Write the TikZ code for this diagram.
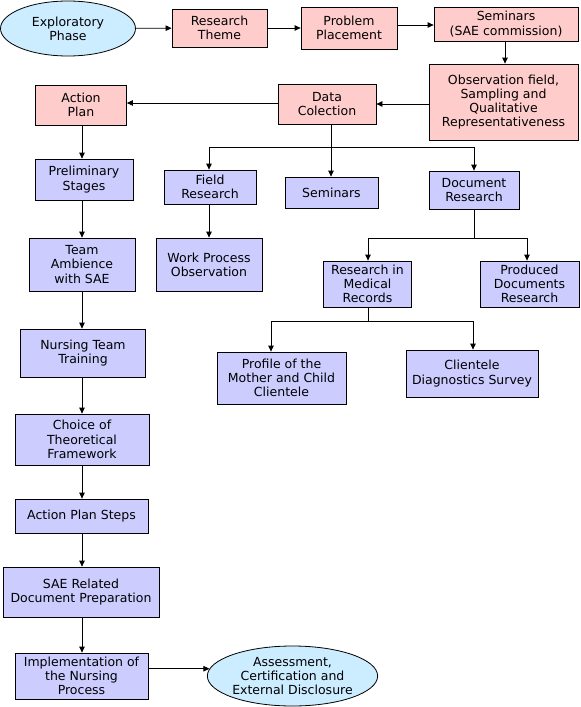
\documentclass[tikz,border=0pt]{standalone}
\usepackage{fontspec}
\setmainfont{DejaVu Sans}
\usetikzlibrary{shapes.geometric,arrows.meta}
\definecolor{pinkfill}{RGB}{255,204,204}
\definecolor{lilacfill}{RGB}{204,204,255}
\definecolor{ovalfill}{RGB}{204,236,255}
\tikzset{
  box/.style={draw=black,line width=0.8pt,inner sep=0pt,align=center,
    font=\fontsize{12.5}{14.2}\selectfont},
  pinkbox/.style={box,fill=pinkfill},
  bluebox/.style={box,fill=lilacfill},
  oval/.style={ellipse,box,fill=ovalfill},
  arr/.style={line width=0.8pt,-{Triangle[length=6pt,width=5.5pt]}},
  wire/.style={line width=0.8pt}
}
\begin{document}
\begin{tikzpicture}[x=1pt,y=-1pt]
\useasboundingbox (0,0) rectangle (581,707);
% top row
\node[oval,minimum width=135,minimum height=55] (explor) at (68,28.5) {Exploratory\\Phase};
\node[pinkbox,minimum width=95,minimum height=38] (theme) at (219.5,28) {Research\\Theme};
\node[pinkbox,minimum width=96,minimum height=42] (placement) at (349,28) {Problem\\Placement};
\node[pinkbox,minimum width=144,minimum height=34] (semsae) at (506,24) {Seminars\\(SAE commission)};
\node[pinkbox,minimum width=149,minimum height=76] (obs) at (503.5,102) {Observation field,\\Sampling and\\Qualitative\\Representativeness};
\node[pinkbox,minimum width=98,minimum height=40] (data) at (327,104) {Data\\Colection};
\node[pinkbox,minimum width=91,minimum height=40] (action) at (81,105) {Action\\Plan};
% left column
\node[bluebox,minimum width=98,minimum height=41] (prelim) at (84,179.5) {Preliminary\\Stages};
\node[bluebox,minimum width=106,minimum height=53] (team) at (82,264.5) {Team\\Ambience\\with SAE};
\node[bluebox,minimum width=125,minimum height=48] (nursing) at (83,353) {Nursing Team\\Training};
\node[bluebox,minimum width=134,minimum height=51] (choice) at (82,439.5) {Choice of\\Theoretical\\Framework};
\node[bluebox,minimum width=133,minimum height=34] (steps) at (81.5,516) {Action Plan Steps};
\node[bluebox,minimum width=156,minimum height=50] (saerel) at (81,592) {SAE Related\\Document Preparation};
\node[bluebox,minimum width=133,minimum height=46] (impl) at (81.5,676) {Implementation of\\the Nursing\\Process};
\node[oval,minimum width=167,minimum height=60] (assess) at (292.5,676) {Assessment,\\Certification and\\External Disclosure};
% data collection branches
\node[bluebox,minimum width=92,minimum height=34] (field) at (210,187) {Field\\Research};
\node[bluebox,minimum width=106,minimum height=53] (workobs) at (209,264.5) {Work Process\\Observation};
\node[bluebox,minimum width=93,minimum height=31] (seminars) at (331.5,192.5) {Seminars};
\node[bluebox,minimum width=90,minimum height=38] (docres) at (474,190) {Document\\Research};
\node[bluebox,minimum width=88,minimum height=46] (medrec) at (367.5,284) {Research in\\Medical\\Records};
\node[bluebox,minimum width=99,minimum height=46] (produced) at (529.5,284) {Produced\\Documents\\Research};
\node[bluebox,minimum width=129,minimum height=52] (profile) at (281.5,378) {Profile of the\\Mother and Child\\Clientele};
\node[bluebox,minimum width=132,minimum height=47] (clientele) at (472,373.5) {Clientele\\Diagnostics Survey};
% split points
\coordinate (splitdata) at (331,147);
\coordinate (splitdoc) at (474,238);
\coordinate (splitrec) at (368,321);
% top row arrows
\draw[arr] (explor) -- (theme);
\draw[arr] (theme) -- (placement);
\draw[arr] (placement.east |- 0,25) -- (semsae.west |- 0,25);
\draw[arr] (semsae.south -| 505,0) -- (obs.north -| 505,0);
\draw[arr] (obs.west |- data) -- (data.east);
\draw[arr] (data.west |- 0,103) -- (action.east |- 0,103);
% left column arrows
\draw[arr] (action.south -| 82,0) -- (prelim.north -| 82,0);
\foreach \a/\b in {prelim/team,team/nursing,nursing/choice,choice/steps,steps/saerel,saerel/impl}
  \draw[arr] (\a.south -| 82,0) -- (\b.north -| 82,0);
\draw[arr] (impl.east |- assess.175) -- (assess.175);
% data collection tree
\draw[wire] (data.south -| splitdata) -- (splitdata);
\draw[arr] (splitdata) -| (field.north -| 209,0);
\draw[arr] (splitdata) -- (seminars.north -| splitdata);
\draw[arr] (splitdata) -| (docres.north);
\draw[arr] (field.south -| 209,0) -- (workobs.north -| 209,0);
\draw[wire] (docres.south) -- (splitdoc);
\draw[arr] (splitdoc) -| (medrec.north -| splitrec);
\draw[arr] (splitdoc) -| (produced.north -| 527,0);
\draw[wire] (medrec.south -| splitrec) -- (splitrec);
\draw[arr] (splitrec) -| (profile.north -| 271,0);
\draw[arr] (splitrec) -| (clientele.north -| 473,0);
\end{tikzpicture}
\end{document}
